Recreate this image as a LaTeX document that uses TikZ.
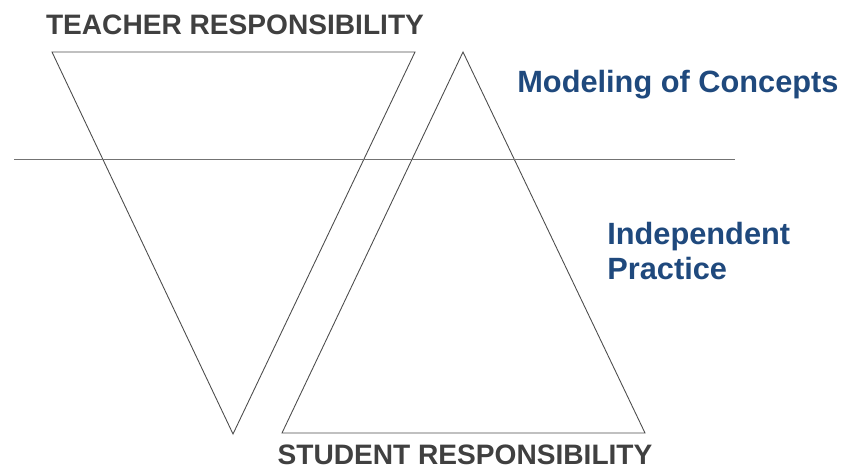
\documentclass[tikz,border=0pt]{standalone}
\usepackage{fontspec}
\setmainfont{Liberation Sans}
\usetikzlibrary{positioning,calc}

\definecolor{labelgrey}{HTML}{404040}
\definecolor{labelblue}{HTML}{1F497D}

\tikzset{
  edge/.style={draw=black!70, line width=0.5pt},
  resp/.style={font=\bfseries\fontsize{16}{19}\selectfont, text=labelgrey, inner sep=0pt},
  phase/.style={font=\bfseries\fontsize{17.5}{19.8}\selectfont, text=labelblue, inner sep=0pt, align=left}
}

\begin{document}
\begin{tikzpicture}[x=0.02cm, y=-0.02cm]
    \useasboundingbox (0,0) rectangle (844,469);

    % teacher triangle (points down)
    \coordinate (tl) at (52,52);
    \coordinate (tr) at (415,52);
    \coordinate (tb) at (233,434);
    % student triangle (points up)
    \coordinate (st) at (463,52);
    \coordinate (sl) at (282,433);
    \coordinate (sr) at (645,433);
    % divider
    \coordinate (dl) at (14,159);
    \coordinate (dr) at (735,159);

    \draw[edge] (tl) -- (tr) -- (tb) -- cycle;
    \draw[edge] (st) -- (sr) -- (sl) -- cycle;
    \draw[edge, draw=black!55] (dl) -- (dr);

    \node[resp] (teacher) at (235,25) {TEACHER RESPONSIBILITY};
    \node[resp] (student) at (465,455) {STUDENT RESPONSIBILITY};
    \node[phase, anchor=west] (model) at (517,85) {Modeling of Concepts};
    \node[phase, anchor=west] (indep) at (607,251) {Independent\\Practice};
\end{tikzpicture}
\end{document}
